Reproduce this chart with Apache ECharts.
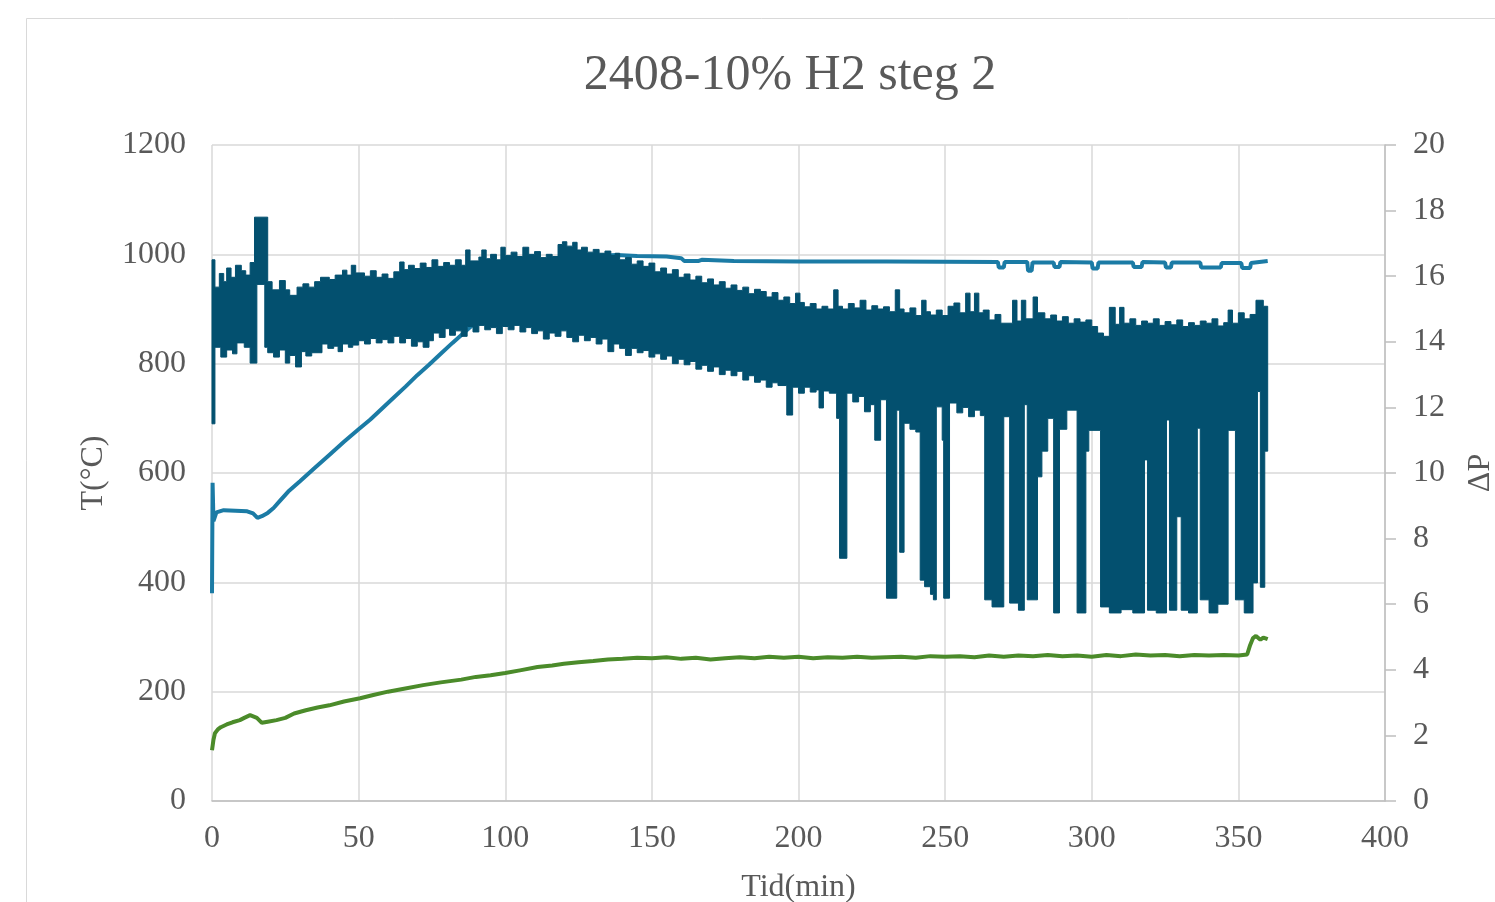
<!DOCTYPE html>
<html>
<head>
<meta charset="utf-8">
<title>2408-10% H2 steg 2</title>
<script src="https://cdn.jsdelivr.net/npm/echarts@6/dist/echarts.min.js"></script>
<style>
  html, body { margin: 0; padding: 0; background: #fff; overflow: hidden; }
  #chart { width: 1495px; height: 902px; }
</style>
</head>
<body>
<div id="chart"></div>
<script>
// x ticks (Tid, min)
var xTicks = [0, 50, 100, 150, 200, 250, 300, 350, 400];

// light blue line, temperature [min, °C]
var tempLine = [
  [0, 380], [0.2, 582], [0.5, 512], [1.5, 528], [4, 532], [8, 531], [12, 530], [14, 526],
  [15.5, 518], [17, 521], [19, 527], [21, 536], [23, 548], [26, 566], [30, 585], [35, 609],
  [40, 633], [45, 657], [50, 680], [54, 698], [58, 718], [62, 738], [66, 758], [70, 779],
  [74, 798], [78, 818], [82, 838], [86, 857], [90, 876], [95, 900], [100, 925], [105, 950],
  [110, 972], [115, 988], [120, 995], [130, 997], [138, 999], [145, 997], [155, 996], [160, 993],
  [161, 988], [166, 988], [167, 990], [178, 988], [200, 987], [230, 987], [268, 986],
  [268.3, 976], [270, 976], [270.3, 986], [278, 986], [278.3, 970], [279.5, 970], [279.8, 985],
  [287, 985], [287.3, 977], [289, 977], [289.3, 986], [300, 985], [300.3, 974], [302, 974],
  [302.3, 985], [314, 985], [314.3, 977], [317, 977], [317.3, 986], [325, 985], [325.3, 976],
  [327, 976], [327.3, 985], [337, 985], [337.3, 976], [344, 976], [344.3, 984], [351, 984],
  [351.3, 975], [354, 975], [354.3, 984], [360, 988]
];

// dark band (noisy signal), upper edge [min, value]
var bandTop = [
  [0, 990], [1, 940], [2.5, 965], [4, 950], [5, 975], [6.5, 958], [8, 980], [10, 970],
  [11.5, 962], [13, 985], [14.5, 1068], [19, 950], [20.5, 935], [23, 952], [25, 935], [26.5, 925],
  [29, 940], [31, 946], [33, 940], [35, 950], [37, 958], [40, 954], [42, 962], [44.5, 971],
  [46, 962], [47.5, 980], [49, 966], [52, 960], [54, 970], [56, 958], [58, 964], [60, 956],
  [62, 968], [64, 986], [65.5, 972], [67, 980], [69, 974], [71, 984], [73, 976], [75, 990],
  [77, 978], [79, 985], [81, 980], [83, 990], [85, 980], [86.5, 1008], [88, 988], [91, 995],
  [92, 1008], [93.5, 992], [95, 1000], [97, 990], [98.5, 1013], [100, 998], [102, 1004], [104, 996],
  [106, 1013], [108, 1000], [110, 1005], [112, 994], [114, 1000], [116, 996], [118, 1018], [119.5, 1023],
  [121, 1015], [123, 1022], [124.5, 1008], [126, 1013], [128, 1004], [130, 1009], [132, 1002], [134, 1006],
  [136, 998], [137.5, 1002], [139, 990], [141, 994], [143, 982], [145, 988], [147, 978], [149, 984],
  [151, 968], [153, 975], [155, 964], [157, 972], [159, 958], [161, 964], [163, 953], [165, 960],
  [167, 948], [169, 955], [171, 944], [173, 950], [175, 938], [177, 944], [179, 934], [181, 940],
  [183, 928], [185, 936], [187, 932], [189, 922], [191, 930], [193, 916], [195, 922], [197, 910],
  [199, 929], [200.5, 912], [202, 904], [204, 910], [206, 900], [208, 905], [210, 900], [212, 935],
  [213.5, 905], [215, 900], [217, 910], [219, 902], [221, 916], [223, 898], [225, 906], [227, 900],
  [229, 904], [231, 895], [233, 935], [234.5, 900], [236, 893], [238, 902], [240, 888], [242, 916],
  [243.5, 895], [245, 889], [247, 898], [249, 888], [251, 905], [253, 911], [255, 893], [257, 929],
  [258.5, 895], [260, 929], [261.5, 893], [263, 898], [265, 880], [267, 890], [269, 874], [273, 916],
  [274.5, 878], [276, 916], [277.5, 882], [280, 922], [281.5, 893], [284, 882], [286, 889], [288, 878],
  [290, 886], [292, 874], [294, 882], [296, 876], [298, 880], [300, 868], [302, 856], [304, 850],
  [306, 903], [308, 872], [309.5, 903], [311, 874], [313, 882], [315, 870], [317, 878], [319, 874],
  [321, 882], [323, 870], [325, 877], [327, 871], [329, 880], [331, 868], [333, 875], [335, 870],
  [337, 878], [339, 874], [341, 882], [343, 869], [345, 875], [346.5, 898], [348, 874], [350, 893],
  [352, 882], [354, 890], [356, 916], [358.5, 905]
];

// dark band, lower edge [min, value]
var bandBottom = [
  [0, 690], [1, 830], [3, 812], [5, 825], [7, 818], [8.5, 838], [11, 830], [13, 801],
  [15.3, 945], [18, 830], [19, 820], [21, 812], [23, 825], [25, 801], [26.5, 815], [28.5, 794],
  [30.5, 822], [32, 814], [34, 820], [37.5, 836], [39.5, 828], [41.5, 832], [43, 822], [44.5, 836],
  [46.5, 830], [48, 834], [50, 842], [52, 836], [54, 846], [56, 838], [58, 844], [60, 838],
  [62, 850], [64, 838], [66, 846], [68, 832], [70, 840], [72, 830], [74, 842], [75.5, 856],
  [77.5, 848], [79.5, 864], [81, 852], [83, 860], [85, 850], [87, 868], [89, 858], [91, 870],
  [93, 862], [95, 866], [97, 855], [99, 868], [101, 862], [103, 870], [105, 858], [107, 866],
  [109, 855], [111, 860], [113, 845], [115, 856], [117, 850], [119, 860], [121, 848], [123, 840],
  [125, 852], [127, 842], [129, 848], [131, 836], [133, 845], [135, 822], [137, 836], [139, 828],
  [141, 815], [143, 828], [145, 820], [147, 824], [149, 812], [151, 818], [153, 808], [155, 814],
  [157, 800], [159, 808], [161, 798], [163, 804], [165, 790], [167, 797], [169, 786], [171, 794],
  [173, 780], [175, 788], [177, 778], [179, 786], [181, 770], [183, 778], [185, 766], [187, 770],
  [189, 757], [191, 765], [193, 760], [196, 706], [198, 757], [200, 746], [202, 757], [204, 748],
  [206, 752], [207, 719], [208.5, 750], [210.5, 746], [213, 700], [214, 444], [216.5, 746], [218.5, 730],
  [220.5, 740], [222.5, 712], [224.5, 725], [226, 660], [228, 734], [230, 371], [233.5, 715], [234.5, 455],
  [236, 691], [238, 680], [240, 675], [241.5, 404], [243, 392], [245, 378], [246, 368], [247, 721],
  [249, 660], [249.5, 371], [251.5, 728], [254, 710], [256, 720], [258, 703], [260, 715], [262, 705],
  [263.5, 368], [266, 355], [270, 703], [272, 362], [275, 349], [277, 725], [278, 368], [281.5, 593],
  [283, 640], [285, 700], [287, 344], [289, 680], [291.5, 715], [295, 344], [298, 640], [299, 678],
  [303, 355], [306, 344], [310, 350], [314, 344], [318, 624], [319, 349], [322, 344], [325.5, 697],
  [326.5, 349], [329, 520], [330.5, 349], [333, 344], [336, 682], [337, 368], [340, 344], [343, 360],
  [346.5, 678], [349, 368], [352, 344], [355, 399], [356.5, 749], [357.5, 391], [359, 640]
];
var bandEnd = 360;

// green line [min, value]
var greenLine = [
  [0, 93], [0.5, 112], [1, 124], [2, 131], [3, 135], [5, 140], [7, 144], [9.5, 148],
  [11, 152], [13, 157], [15.3, 152], [17, 143], [19, 145], [22, 148], [25, 152], [28, 160],
  [32, 166], [36, 171], [40, 175], [45, 182], [50.5, 188], [55, 194], [60, 200], [65, 205],
  [72, 212], [78, 217], [85, 222], [90, 227], [95, 230], [100, 234], [105, 239], [111, 245],
  [116, 248], [120, 251], [125, 254], [130, 256], [135, 259], [140, 260], [145, 262], [150, 261],
  [155, 263], [160, 260], [165, 262], [170, 259], [175, 261], [180, 263], [185, 261], [190, 264],
  [195, 262], [200, 264], [205, 261], [210, 263], [215, 262], [220, 264], [225, 262], [230, 263],
  [235, 264], [240, 262], [245, 265], [250, 264], [255, 265], [260, 263], [265, 266], [270, 264],
  [275, 266], [280, 265], [285, 267], [290, 265], [295, 266], [300, 264], [305, 267], [310, 265],
  [315, 268], [320, 266], [325, 267], [330, 265], [335, 267], [340, 266], [345, 267], [350, 266],
  [353, 268], [354, 285], [355, 298], [356, 302], [357.5, 295], [358.5, 299], [360, 296]
];

var chart = echarts.init(document.getElementById('chart'));

var textColor = '#595959';
var gridColor = '#d9d9d9';
var serif = 'Liberation Serif';

// step outline of one band edge, through the axis scales
function stepPoints(arr, endT, api) {
  var pts = [];
  for (var i = 0; i < arr.length; i++) {
    var t0 = arr[i][0];
    var t1 = i + 1 < arr.length ? arr[i + 1][0] : endT;
    pts.push(api.coord([t0, arr[i][1]]));
    pts.push(api.coord([t1, arr[i][1]]));
  }
  return pts;
}

function plain(v) {
  return String(v);
}

var option = {
  animation: false,
  backgroundColor: '#fff',
  title: {
    text: '2408-10% H2 steg 2',
    left: 785,
    top: 46,
    textAlign: 'center',
    textStyle: { fontFamily: serif, fontSize: 50, fontWeight: 'normal', color: textColor }
  },
  graphic: [{
    type: 'rect',
    shape: { x: 26.5, y: 18.5, width: 1500, height: 900 },
    style: { fill: 'none', stroke: gridColor, lineWidth: 1 },
    silent: true
  }],
  grid: { left: 212, right: 110, top: 145, bottom: 101, outerBoundsMode: 'none' },
  xAxis: {
    type: 'value',
    min: xTicks[0],
    max: xTicks[xTicks.length - 1],
    interval: 50,
    name: 'Tid(min)',
    nameLocation: 'middle',
    nameGap: 71,
    nameTextStyle: { fontFamily: serif, fontSize: 32, color: textColor },
    axisLine: { show: true, lineStyle: { color: '#bfbfbf', width: 1.5 } },
    axisTick: { show: false },
    axisLabel: { fontFamily: serif, fontSize: 32, color: textColor, margin: 22, formatter: plain },
    splitLine: { show: true, lineStyle: { color: gridColor, width: 1.5 } }
  },
  yAxis: [{
    type: 'value',
    min: 0,
    max: 1200,
    interval: 200,
    name: 'T(°C)',
    nameLocation: 'middle',
    nameGap: 102,
    nameTextStyle: { fontFamily: serif, fontSize: 32, color: textColor },
    axisLine: { show: false },
    axisTick: { show: false },
    axisLabel: { fontFamily: serif, fontSize: 32, color: textColor, margin: 26, formatter: plain },
    splitLine: { show: true, lineStyle: { color: gridColor, width: 1.5 } }
  }, {
    type: 'value',
    position: 'right',
    min: 0,
    max: 20,
    interval: 2,
    name: 'ΔP',
    nameLocation: 'middle',
    nameGap: 80,
    nameTextStyle: { fontFamily: serif, fontSize: 32, color: textColor },
    axisLine: { show: true, lineStyle: { color: '#bfbfbf', width: 1.5 } },
    axisTick: { show: true, inside: false, length: 11, lineStyle: { color: '#bfbfbf', width: 1.5 } },
    axisLabel: { fontFamily: serif, fontSize: 32, color: textColor, margin: 28, formatter: plain },
    splitLine: { show: false }
  }],
  series: [{
    name: 'T',
    type: 'line',
    yAxisIndex: 0,
    showSymbol: false,
    data: tempLine,
    lineStyle: { color: '#1b7ba5', width: 4 },
    z: 2
  }, {
    name: 'signal',
    type: 'custom',
    yAxisIndex: 0,
    data: [[0, 0]],
    silent: true,
    z: 3,
    renderItem: function (params, api) {
      var top = stepPoints(bandTop, bandEnd, api);
      var bottom = stepPoints(bandBottom, bandEnd, api).reverse();
      return {
        type: 'polygon',
        shape: { points: top.concat(bottom) },
        style: { fill: '#03506f', stroke: '#03506f', lineWidth: 1 }
      };
    }
  }, {
    name: 'green',
    type: 'line',
    yAxisIndex: 0,
    showSymbol: false,
    data: greenLine,
    lineStyle: { color: '#4b8b2a', width: 4 },
    z: 4
  }]
};

chart.setOption(option);
</script>
</body>
</html>
